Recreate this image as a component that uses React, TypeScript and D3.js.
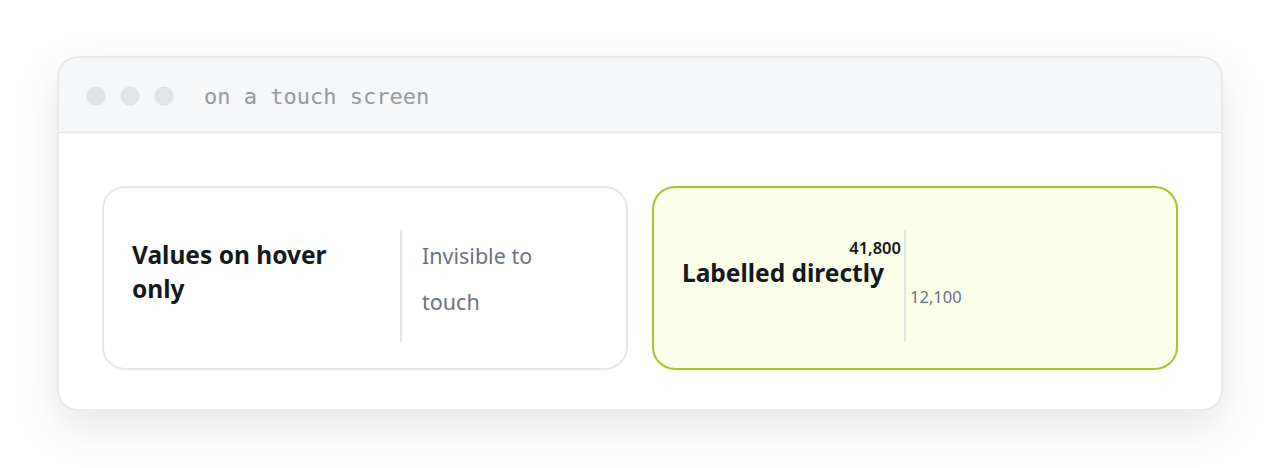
import { useEffect, useRef } from "react";
import * as d3 from "d3";

// ---- Data ------------------------------------------------------------------
const windowTitle = "on a touch screen";
const panelTitles = [["Values on hover", "only"], ["Labelled directly"]];
const panelCaptions = [["Invisible to", "touch"], []];
const directValues = [41800, 12100];
const valueEmphasis = [true, false]; // first label bold, left of the rule

const W = 1280;
const H = 468;

const App = () => {
  const svgRef = useRef<SVGSVGElement | null>(null);

  useEffect(() => {
    const svg = d3.select(svgRef.current);
    svg.selectAll("*").remove();

    const defs = svg.append("defs");
    const shadow = defs
      .append("filter")
      .attr("id", "winShadow")
      .attr("x", "-20%")
      .attr("y", "-30%")
      .attr("width", "140%")
      .attr("height", "170%");
    shadow
      .append("feDropShadow")
      .attr("dx", 0)
      .attr("dy", 16)
      .attr("stdDeviation", 22)
      .attr("flood-color", "#000")
      .attr("flood-opacity", 0.1);

    const clip = defs.append("clipPath").attr("id", "winClip");

    // ----- Window frame ----------------------------------------------------
    const win = { x: 58, y: 57, w: 1164, h: 353, r: 20 };
    clip
      .append("rect")
      .attr("x", win.x)
      .attr("y", win.y)
      .attr("width", win.w)
      .attr("height", win.h)
      .attr("rx", win.r);

    svg
      .append("rect")
      .attr("x", win.x)
      .attr("y", win.y)
      .attr("width", win.w)
      .attr("height", win.h)
      .attr("rx", win.r)
      .attr("fill", "#fff")
      .attr("filter", "url(#winShadow)");

    const headerH = 75;
    const inner = svg.append("g").attr("clip-path", "url(#winClip)");
    inner
      .append("rect")
      .attr("x", win.x)
      .attr("y", win.y)
      .attr("width", win.w)
      .attr("height", headerH)
      .attr("fill", "#f6f7f9");
    inner
      .append("line")
      .attr("x1", win.x)
      .attr("x2", win.x + win.w)
      .attr("y1", win.y + headerH + 0.5)
      .attr("y2", win.y + headerH + 0.5)
      .attr("stroke", "#e2e4e8")
      .attr("stroke-width", 1.5);

    svg
      .append("rect")
      .attr("x", win.x)
      .attr("y", win.y)
      .attr("width", win.w)
      .attr("height", win.h)
      .attr("rx", win.r)
      .attr("fill", "none")
      .attr("stroke", "#e6e7ea")
      .attr("stroke-width", 1.5);

    // traffic-light dots
    const dotX = d3.scalePoint<number>().domain([0, 1, 2]).range([96, 164]);
    svg
      .append("g")
      .selectAll("circle")
      .data([0, 1, 2])
      .join("circle")
      .attr("cx", (d) => dotX(d) as number)
      .attr("cy", 96)
      .attr("r", 9.5)
      .attr("fill", "#e1e3e6");

    svg
      .append("text")
      .attr("x", 204)
      .attr("y", 104)
      .attr("font-family", "'DejaVu Sans Mono', monospace")
      .attr("font-size", 22)
      .attr("fill", "#959aa2")
      .text(windowTitle);

    // ----- Panels ----------------------------------------------------------
    const panelX = d3
      .scaleBand<number>()
      .domain([0, 1])
      .range([103, 1177])
      .paddingInner(26 / 550);
    const panelY = 187;
    const panelH = 182;
    const ruleTop = 230;
    const ruleBottom = 342;

    const sans = "'Noto Sans', 'Open Sans', sans-serif";

    panelTitles.forEach((title, i) => {
      const px = panelX(i) as number;
      const pw = panelX.bandwidth();
      const highlighted = i === 1;
      const g = svg.append("g");

      g.append("rect")
        .attr("x", px)
        .attr("y", panelY)
        .attr("width", pw)
        .attr("height", panelH)
        .attr("rx", 22)
        .attr("fill", highlighted ? "#fbfee8" : "#fff")
        .attr("stroke", highlighted ? "#abc22c" : "#e6e7ea")
        .attr("stroke-width", 2);

      const ruleX = highlighted ? px + 252 : px + 298;
      g.append("line")
        .attr("x1", ruleX)
        .attr("x2", ruleX)
        .attr("y1", ruleTop)
        .attr("y2", ruleBottom)
        .attr("stroke", "#e3e5e8")
        .attr("stroke-width", 2);

      const titleY = highlighted ? 282 : 264;
      g.append("text")
        .attr("x", px + 29)
        .attr("y", titleY)
        .attr("font-family", sans)
        .attr("font-weight", 700)
        .attr("font-size", 24.5)
        .attr("fill", "#15181d")
        .selectAll("tspan")
        .data(title)
        .join("tspan")
        .attr("x", px + 29)
        .attr("dy", (_, j) => (j === 0 ? 0 : 34))
        .text((d) => d);

      g.append("text")
        .attr("x", ruleX + 21)
        .attr("y", 264)
        .attr("font-family", sans)
        .attr("font-size", 21.5)
        .attr("fill", "#6b7280")
        .selectAll("tspan")
        .data(panelCaptions[i])
        .join("tspan")
        .attr("x", ruleX + 21)
        .attr("dy", (_, j) => (j === 0 ? 0 : 46))
        .text((d) => d);

      if (highlighted) {
        const y = d3.scaleLinear().domain([0, 50000]).range([318, 234]);
        const fmt = d3.format(",");
        g.append("g")
          .selectAll("text")
          .data(directValues)
          .join("text")
          .attr("x", (_, j) => (valueEmphasis[j] ? ruleX - 4 : ruleX + 5))
          .attr("y", (d) => y(d))
          .attr("dy", "0.35em")
          .attr("text-anchor", (_, j) => (valueEmphasis[j] ? "end" : "start"))
          .attr("font-family", sans)
          .attr("font-size", 16.5)
          .attr("font-weight", (_, j) => (valueEmphasis[j] ? 600 : 400))
          .attr("fill", (_, j) => (valueEmphasis[j] ? "#15181d" : "#6b7280"))
          .text((d) => fmt(d));
      }
    });
  }, []);

  return (
    <svg
      ref={svgRef}
      width={W}
      height={H}
      style={{ position: "absolute", left: 0, top: 0, background: "#fff" }}
    />
  );
};

export default App;
